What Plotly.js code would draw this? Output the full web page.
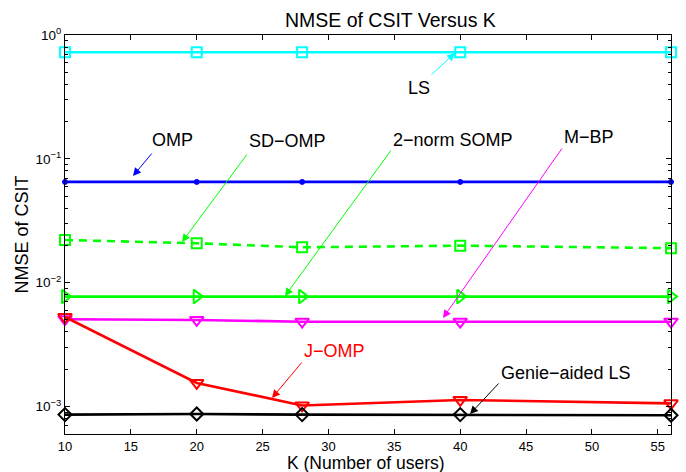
<!DOCTYPE html>
<html>
<head>
<meta charset="utf-8">
<script src="https://cdn.plot.ly/plotly-3.0.1.min.js"></script>
<style>html,body{margin:0;padding:0;background:#fff;}#chart{width:686px;height:472px;}</style>
</head>
<body>
<div id="chart"></div>
<script>
// ---- data ----
const K = [10, 20, 28, 40, 56];
const nmseLS = [0.726, 0.726, 0.726, 0.726, 0.726];
const nmseOMP = [0.0651, 0.0651, 0.0651, 0.0651, 0.0651];
const nmseSDOMP = [0.0221, 0.0208, 0.0193, 0.0199, 0.0190];
const nmseSOMP = [0.00772, 0.00772, 0.00772, 0.00772, 0.00772];
const nmseMBP = [0.00507, 0.00500, 0.00484, 0.00484, 0.00484];
const nmseJOMP = [0.00528, 0.00155, 0.00102, 0.00113, 0.00106];
const nmseGenie = [0.00086, 0.00087, 0.00086, 0.00086, 0.00085];
const xTicks = [10, 15, 20, 25, 30, 35, 40, 45, 50, 55];
const yTickVals = [0.001, 0.01, 0.1, 1];
const yTickText = ["10<sup>\u22123</sup>", "10<sup>\u22122</sup>", "10<sup>\u22121</sup>", "10<sup>0</sup>"];

const FONT = "Liberation Sans, Arial, Helvetica, sans-serif";

function tr(y, color, symbol, size, dash, mw) {
  return {
    x: K, y: y, type: 'scatter', mode: 'lines+markers',
    line: {color: color, width: 2.6, dash: dash || 'solid'},
    marker: {symbol: symbol, size: size, color: color, line: {color: color, width: mw || 2}},
    showlegend: false, cliponaxis: false
  };
}

const data = [
  tr(nmseLS, '#00FFFF', 'square-open', 10),
  tr(nmseOMP, '#0000FF', 'circle', 5, null, 1),
  tr(nmseSDOMP, '#00FF00', 'square-open', 10, '8px,6px'),
  tr(nmseSOMP, '#00FF00', 'triangle-right-open', 12),
  tr(nmseMBP, '#FF00FF', 'triangle-down-open', 12),
  tr(nmseJOMP, '#FF0000', 'triangle-down-open', 12),
  tr(nmseGenie, '#000000', 'diamond-open', 10)
];

// plot area in pixels: left 65, right 671, top 35, bottom 434
const PL = 65, PR = 671, PT = 35, PB = 434;
const px = v => (v - PL) / (PR - PL);
const py = v => (PB - v) / (PB - PT);

function arrow(tail, tip, color) {
  return {
    xref: 'paper', yref: 'paper', axref: 'paper', ayref: 'paper',
    x: px(tip[0]), y: py(tip[1]), ax: px(tail[0]), ay: py(tail[1]),
    text: '', showarrow: true, arrowcolor: color, arrowwidth: 1,
    arrowhead: 2, arrowsize: 1.6, standoff: 0, startstandoff: 0
  };
}
function label(pos, text, color, size) {
  return {
    xref: 'paper', yref: 'paper', x: px(pos[0]), y: py(pos[1]),
    xanchor: 'center', yanchor: 'middle', text: text, showarrow: false,
    borderpad: 0,
    font: {family: FONT, size: size || 18, color: color}
  };
}

const annotations = [
  arrow([430, 76], [455, 53], '#00FFFF'), label([419, 88], 'LS', '#000'),
  arrow([153, 152], [133, 176], '#0000FF'), label([172, 140], 'OMP', '#000'),
  arrow([248, 153], [182, 242], '#00FF00'), label([287, 141], 'SD\u2212OMP', '#000'),
  arrow([392, 149], [285, 296], '#00FF00'), label([453, 140], '2\u2212norm SOMP', '#000'),
  arrow([563, 147], [443, 318], '#FF00FF'), label([589, 137], 'M\u2212BP', '#000'),
  arrow([303, 361], [272, 398], '#FF0000'), label([334, 351], 'J\u2212OMP', '#FF0000'),
  arrow([500, 382], [470, 414], '#000000'), label([566, 373], 'Genie\u2212aided LS', '#000'),
  // x-axis title
  label([366, 462.5], 'K (Number of users)', '#000', 17.5)
];

const layout = {
  width: 686, height: 472,
  margin: {l: 65, r: 15, t: 35, b: 38},
  paper_bgcolor: '#fff', plot_bgcolor: '#fff',
  font: {family: FONT, size: 13, color: '#000'},
  title: {text: 'NMSE of CSIT Versus K', font: {family: FONT, size: 19.5, color: '#000'},
          x: 0.5369, xanchor: 'center', xref: 'paper', y: 1 - 20 / 472, yref: 'container', yanchor: 'middle'},
  xaxis: {
    range: [10, 56], tickvals: xTicks, ticktext: xTicks.map(String),
    ticks: 'inside', ticklen: 5, tickcolor: '#000', tickwidth: 1,
    showline: true, linecolor: '#000', linewidth: 1, mirror: 'ticks',
    showgrid: false, zeroline: false,
    tickfont: {family: FONT, size: 13, color: '#000'}
  },
  yaxis: {
    type: 'log', range: [-3.222, 0],
    tickvals: yTickVals, ticktext: yTickText,
    ticks: 'inside', ticklen: 5, tickcolor: '#000', tickwidth: 1,
    minor: {ticks: 'inside', ticklen: 3, tickcolor: '#000', tickwidth: 1, dtick: 'D1', showgrid: false},
    showline: true, linecolor: '#000', linewidth: 1, mirror: 'ticks',
    showgrid: false, zeroline: false,
    tickfont: {family: FONT, size: 13.5, color: '#000'},
    title: {text: 'NMSE of CSIT', font: {family: FONT, size: 18, color: '#000'}, standoff: 2}
  },
  annotations: annotations
};

Plotly.newPlot('chart', data, layout, {staticPlot: true, displayModeBar: false});
</script>
</body>
</html>
